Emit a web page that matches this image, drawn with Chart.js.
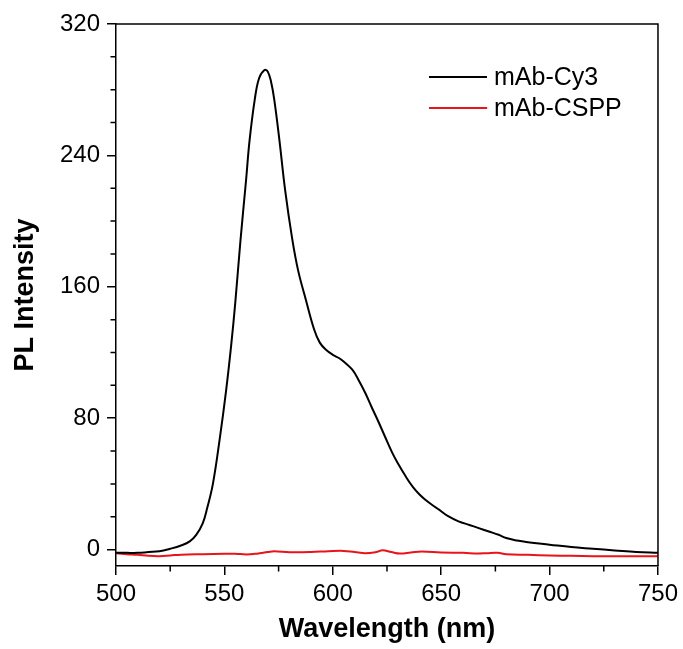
<!DOCTYPE html>
<html>
<head>
<meta charset="utf-8">
<script src="https://cdn.jsdelivr.net/npm/chart.js@4/dist/chart.umd.min.js"></script>
<style>
  html, body { margin: 0; padding: 0; background: #fff; }
  #wrap { width: 683px; height: 649px; position: relative; }
</style>
</head>
<body>
<div id="wrap"><canvas id="c" width="683" height="649"></canvas></div>
<script>
// ---- data ----
const seriesNames = ["mAb-Cy3", "mAb-CSPP"];

const cy3Wavelength = [500, 505, 510, 515, 520, 525, 530, 534, 537, 540, 542, 544.7, 547.8, 550.8, 553.1, 555, 557.4, 560, 561.6, 564, 566, 568.5, 570, 571.5, 573, 575.4, 578, 581.3, 584, 587.6, 591.4, 594, 597, 600, 603, 605, 609, 612, 615, 618, 621, 624, 627.4, 630, 633.6, 637, 640, 643, 646, 649, 653, 658, 663, 667, 672, 676.5, 680, 685, 690, 700, 710, 720, 730, 740, 750];
const cy3Intensity = [-2, -2, -2, -1.5, -1, 0.5, 2.5, 5, 9, 16, 25, 40, 67, 97, 124, 150, 188, 225, 249, 274, 287, 292, 291, 285, 274, 249, 219, 189, 170, 152, 134, 126, 121.5, 118.6, 116.5, 114.5, 109.5, 103, 95.3, 86.5, 78, 69, 59, 52.5, 44.6, 38, 33.5, 30, 27, 24.3, 20.5, 17.2, 15, 13.2, 11, 9, 7, 5.5, 4.5, 3, 1.5, 0.5, -0.5, -1.5, -2];

const csppWavelength = [500, 505, 510, 515, 520, 525, 530, 540, 550, 555, 560, 565, 570, 573, 580, 590, 598, 605, 610, 615, 620, 623, 627, 631, 636, 641, 650, 660, 667, 671, 676, 680, 690, 700, 710, 720, 730, 740, 750];
const csppIntensity = [-2.3, -2.8, -3.2, -3.8, -4, -3.6, -3.1, -2.8, -2.6, -2.5, -3, -2.5, -1.5, -1, -1.6, -1.5, -1, -0.8, -1.5, -2.2, -1.5, -0.4, -1.5, -2.4, -1.8, -1.2, -1.8, -2, -2.4, -2.2, -2, -2.8, -3.2, -3.6, -3.8, -4, -4.1, -4.1, -4];

const xMajorTicks = [500, 550, 600, 650, 700, 750];
const yMajorTicks = [0, 80, 160, 240, 320];
const xMinorTicks = [525, 575, 625, 675, 725];
const yMinorTicks = [20, 40, 60, 100, 120, 140, 180, 200, 220, 260, 280, 300];
const seriesColors = ["#000000", "#e8141a"];

const toPoints = (xs, ys) => xs.map((x, i) => ({ x: x, y: ys[i] }));

const FONT = "'Liberation Sans', Arial, sans-serif";

const framePlugin = {
  id: 'frame',
  afterDraw(chart) {
    const ctx = chart.ctx;
    const a = chart.chartArea;
    const xs = chart.scales.x, ys = chart.scales.y;
    ctx.save();
    ctx.strokeStyle = '#000';
    ctx.lineWidth = 1.5;
    // top and right frame lines
    ctx.beginPath();
    ctx.moveTo(a.left, a.top);
    ctx.lineTo(a.right, a.top);
    ctx.lineTo(a.right, a.bottom);
    ctx.stroke();
    // minor ticks
    ctx.beginPath();
    xMinorTicks.forEach(v => {
      const px = xs.getPixelForValue(v);
      ctx.moveTo(px, a.bottom);
      ctx.lineTo(px, a.bottom + 5.5);
    });
    yMinorTicks.forEach(v => {
      const py = ys.getPixelForValue(v);
      ctx.moveTo(a.left, py);
      ctx.lineTo(a.left - 5.5, py);
    });
    ctx.stroke();
    // legend inside plot, top right
    const lx0 = a.right - 229, lx1 = a.right - 171, tx = a.right - 164;
    const rowY = [a.top + 53, a.top + 84];
    ctx.font = "25px " + FONT;
    ctx.textBaseline = 'middle';
    ctx.textAlign = 'left';
    chart.data.datasets.forEach((ds, i) => {
      ctx.strokeStyle = ds.borderColor;
      ctx.lineWidth = 2;
      ctx.beginPath();
      ctx.moveTo(lx0, rowY[i]);
      ctx.lineTo(lx1, rowY[i]);
      ctx.stroke();
      ctx.fillStyle = '#000';
      ctx.fillText(ds.label, tx, rowY[i] + 1);
    });
    ctx.restore();
  }
};

new Chart(document.getElementById('c'), {
  type: 'scatter',
  data: {
    datasets: [
      { label: seriesNames[0], data: toPoints(cy3Wavelength, cy3Intensity), showLine: true, borderColor: seriesColors[0], borderWidth: 2, pointRadius: 0, tension: 0.4 },
      { label: seriesNames[1], data: toPoints(csppWavelength, csppIntensity), showLine: true, borderColor: seriesColors[1], borderWidth: 2, pointRadius: 0, tension: 0.4 }
    ]
  },
  options: {
    responsive: false,
    animation: false,
    devicePixelRatio: 1,
    layout: { padding: { left: 0, right: 23, top: 24, bottom: 0 } },
    plugins: { legend: { display: false }, tooltip: { enabled: false } },
    scales: {
      x: {
        type: 'linear', min: 500, max: 750,
        afterBuildTicks: s => { s.ticks = xMajorTicks.map(v => ({ value: v })); },
        afterFit: s => { s.height = 83; },
        grid: { display: true, drawOnChartArea: false, drawTicks: true, tickLength: 9, color: '#000', lineWidth: 1.5 },
        border: { display: true, color: '#000', width: 1.5 },
        ticks: { color: '#000', padding: 5, font: { family: FONT, size: 24 }, maxRotation: 0 },
        title: { display: true, text: 'Wavelength (nm)', color: '#000', font: { family: FONT, size: 27, weight: 'bold' }, padding: { top: 0, bottom: 3 } }
      },
      y: {
        type: 'linear', min: -10, max: 320,
        afterBuildTicks: s => { s.ticks = yMajorTicks.map(v => ({ value: v })); },
        afterFit: s => { s.width = 116; },
        grid: { display: true, drawOnChartArea: false, drawTicks: true, tickLength: 9, color: '#000', lineWidth: 1.5 },
        border: { display: true, color: '#000', width: 1.5 },
        ticks: { color: '#000', padding: 7, font: { family: FONT, size: 24 } },
        title: { display: true, text: 'PL Intensity', color: '#000', font: { family: FONT, size: 27, weight: 'bold' }, padding: { top: 9, bottom: 0 } }
      }
    }
  },
  plugins: [framePlugin]
});
</script>
</body>
</html>
